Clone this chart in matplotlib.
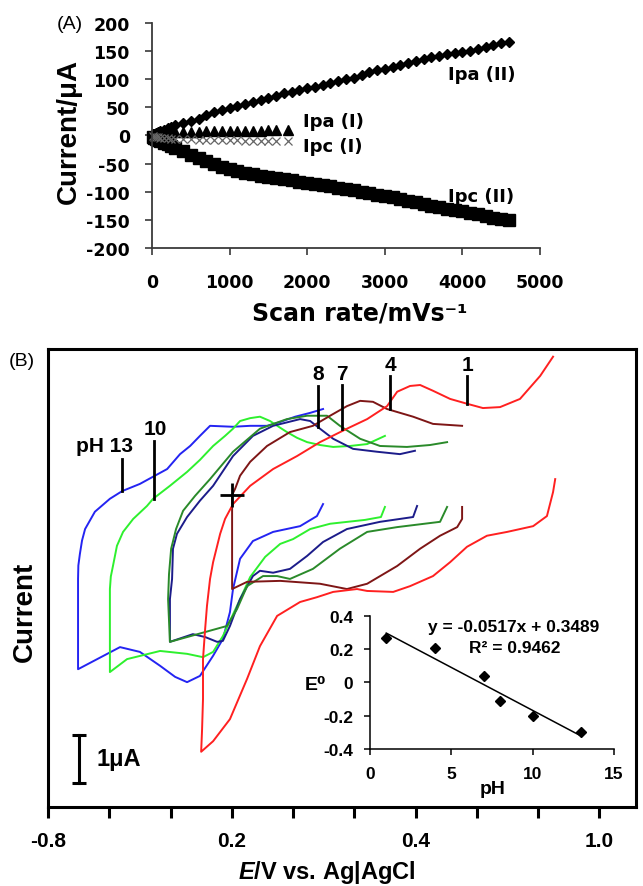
import matplotlib
matplotlib.use("Agg")
import matplotlib.pyplot as plt

plt.rcParams["font.family"] = ["Liberation Sans", "DejaVu Sans"]
plt.rcParams["axes.unicode_minus"] = False
plt.rcParams["mathtext.fontset"] = "custom"
plt.rcParams["mathtext.it"] = "Liberation Sans:italic:bold"
plt.rcParams["mathtext.rm"] = "Liberation Sans:bold"

WIDE = ["DejaVu Sans"]

# ---------------------------------------------------------------------------
# (A) peak currents vs scan rate
# ---------------------------------------------------------------------------
rate_II = [10, 25, 50, 75, 100, 150, 200, 250, 300, 400, 500, 600, 700, 800,
           900, 1000, 1100, 1200, 1300, 1400, 1500, 1600, 1700, 1800, 1900,
           2000, 2100, 2200, 2300, 2400, 2500, 2600, 2700, 2800, 2900, 3000,
           3100, 3200, 3300, 3400, 3500, 3600, 3700, 3800, 3900, 4000, 4100,
           4200, 4300, 4400, 4500, 4600]
ipa_II = [2, 3, 5, 6, 8, 10, 13, 15, 18, 22, 26, 30, 37, 42, 45, 48, 52, 56,
          59, 63, 67, 71, 75, 78, 81, 84, 87, 90, 94, 97, 100, 103, 107, 112,
          116, 119, 122, 126, 129, 132, 136, 139, 141, 144, 147, 149, 151, 154,
          157, 160, 164, 167]
ipc_II = [-2, -4, -6, -8, -10, -13, -16, -19, -22, -28, -34, -40, -46, -51,
          -56, -60, -63, -66, -69, -72, -74, -76, -78, -80, -82, -84, -86, -88,
          -90, -93, -95, -97, -100, -102, -105, -107, -110, -113, -116, -119,
          -122, -125, -127, -130, -132, -135, -137, -140, -143, -146, -148, -151]

rate_I = [10, 25, 50, 75, 100, 150, 200, 250, 300, 400, 500, 600, 700, 800,
          900, 1000, 1100, 1200, 1300, 1400, 1500, 1600, 1750]
ipa_I = [1, 2, 3, 3.5, 4, 4.5, 5, 5.5, 6, 6.5, 7, 7, 7.5, 7.5, 8, 8, 8, 8.5,
         8.5, 8.5, 9, 9, 9]
ipc_I = [-1, -2, -3, -3.5, -4, -4.5, -5, -5.5, -6, -6.5, -7, -7.5, -7.5, -8,
         -8, -8.5, -8.5, -9, -9, -9, -9.5, -9.5, -9.5]

# ---------------------------------------------------------------------------
# (B) cyclic voltammograms at several pH (E / V, current / uA)
# ---------------------------------------------------------------------------
ph13_E = [0.098, 0.078, 0.023, -0.065, -0.131, -0.173, -0.196, -0.206, -0.229,
          -0.261, -0.304, -0.346, -0.385, -0.434, -0.500, -0.565, -0.702,
          -0.702, -0.701, -0.696, -0.689, -0.679, -0.647, -0.598, -0.558,
          -0.500, -0.457, -0.411, -0.369, -0.336, -0.304, -0.271, -0.196,
          -0.140, -0.085, -0.042, 0.007, 0.056, 0.098]
ph13_I = [1.56, 1.31, 1.10, 0.98, 0.79, 0.42, -0.21, -0.69, -1.25, -1.60,
          -2.02, -2.15, -2.04, -1.81, -1.52, -1.42, -1.88, 0.0, 0.28, 0.52,
          0.80, 1.04, 1.40, 1.67, 1.83, 1.98, 2.13, 2.29, 2.60, 2.77, 2.98,
          3.19, 3.17, 3.19, 3.19, 3.27, 3.38, 3.46, 3.54]

ph10_E = [0.300, 0.287, 0.235, 0.121, 0.056, 0.0, -0.042, -0.091, -0.140,
          -0.183, -0.229, -0.261, -0.294, -0.346, -0.434, -0.542, -0.598,
          -0.598, -0.595, -0.588, -0.575, -0.555, -0.522, -0.477, -0.457,
          -0.402, -0.346, -0.304, -0.261, -0.222, -0.196, -0.173, -0.140,
          -0.108, -0.075, -0.042, -0.020, 0.013, 0.046, 0.088, 0.131, 0.186,
          0.242, 0.300]
ph10_I = [1.50, 1.29, 1.23, 1.15, 1.04, 0.83, 0.73, 0.46, 0.04, -0.56, -1.19,
          -1.52, -1.63, -1.56, -1.50, -1.67, -1.94, -0.21, 0.05, 0.27, 0.69,
          0.98, 1.25, 1.52, 1.67, 1.94, 2.23, 2.48, 2.77, 2.98, 3.13, 3.29,
          3.35, 3.38, 3.29, 3.15, 3.06, 2.94, 2.85, 2.79, 2.75, 2.77, 2.81,
          2.98]

ph8_E = [0.405, 0.392, 0.284, 0.176, 0.098, 0.046, -0.010, -0.065, -0.108,
         -0.131, -0.173, -0.206, -0.229, -0.248, -0.287, -0.327, -0.402,
         -0.402, -0.395, -0.392, -0.379, -0.346, -0.304, -0.261, -0.196,
         -0.131, -0.065, 0.023, 0.056, 0.088, 0.131, 0.196, 0.274, 0.349,
         0.398]
ph8_I = [1.52, 1.29, 1.19, 1.04, 0.77, 0.48, 0.21, 0.13, 0.17, 0.06, -0.42,
         -0.98, -1.29, -1.31, -1.21, -1.15, -1.31, -0.42, 0.0, 0.63, 0.94,
         1.29, 1.63, 1.94, 2.56, 2.98, 3.19, 3.33, 3.29, 3.13, 2.92, 2.71,
         2.65, 2.60, 2.67]

ph7_E = [0.503, 0.480, 0.340, 0.242, 0.153, 0.065, -0.010, -0.052, -0.098,
         -0.150, -0.183, -0.216, -0.402, -0.408, -0.405, -0.398, -0.382,
         -0.359, -0.320, -0.271, -0.196, -0.108, -0.020, 0.046, 0.111, 0.153,
         0.219, 0.284, 0.372, 0.447, 0.503]
ph7_I = [1.50, 1.19, 1.08, 0.98, 0.63, 0.21, 0.0, 0.06, 0.06, -0.15, -0.63,
         -0.98, -1.31, -0.42, 0.10, 0.63, 1.04, 1.42, 1.73, 2.08, 2.65, 3.13,
         3.33, 3.40, 3.40, 3.19, 2.92, 2.77, 2.75, 2.79, 2.85]

ph4_E = [0.552, 0.552, 0.536, 0.480, 0.415, 0.340, 0.242, 0.176, 0.088,
         -0.042, -0.150, -0.199, -0.199, -0.189, -0.173, -0.140, -0.085,
         -0.010, 0.065, 0.121, 0.176, 0.219, 0.261, 0.307, 0.392, 0.457, 0.552]
ph4_I = [1.50, 1.25, 1.08, 0.90, 0.63, 0.27, -0.10, -0.21, -0.10, -0.04,
         -0.06, -0.21, 1.75, 1.88, 2.15, 2.44, 2.77, 3.06, 3.19, 3.40, 3.60,
         3.71, 3.69, 3.54, 3.38, 3.23, 3.19]

ph1_E = [0.856, 0.849, 0.829, 0.784, 0.699, 0.633, 0.568, 0.513, 0.457,
         0.382, 0.327, 0.242, 0.209, 0.131, 0.078, 0.023, -0.052, -0.108,
         -0.150, -0.206, -0.261, -0.300, -0.297, -0.294, -0.294, -0.287,
         -0.281, -0.271, -0.261, -0.238, -0.222, -0.196, -0.140, -0.065,
         0.013, 0.088, 0.176, 0.242, 0.307, 0.340, 0.382, 0.415, 0.457, 0.513,
         0.568, 0.620, 0.676, 0.741, 0.807, 0.849]
ph1_I = [2.08, 1.81, 1.31, 1.10, 0.98, 0.90, 0.67, 0.35, 0.06, -0.15, -0.27,
         -0.25, -0.21, -0.27, -0.38, -0.48, -0.77, -1.40, -2.08, -2.92, -3.38,
         -3.60, -3.13, -2.50, -1.67, -1.04, -0.56, 0.0, 0.35, 0.94, 1.25,
         1.56, 1.94, 2.29, 2.56, 2.85, 3.13, 3.33, 3.60, 3.90, 4.02, 4.04,
         3.92, 3.75, 3.65, 3.56, 3.58, 3.75, 4.23, 4.63]

# peak markers: position, extent and label
mark_E = [-0.558, -0.454, 0.082, 0.160, 0.317, 0.568]
mark_top = [2.50, 2.88, 4.02, 4.04, 4.23, 4.23]
mark_bot = [1.83, 1.67, 3.17, 3.13, 3.54, 3.65]
mark_text = ["pH 13", "10", "8", "7", "4", "1"]
text_E = [-0.614, -0.451, 0.082, 0.160, 0.317, 0.571]
text_I = [2.77, 3.13, 4.27, 4.27, 4.46, 4.46]

cross_E, cross_I = -0.199, 1.75
bar_E, bar_I = -0.699, [-3.25, -4.25]

xtick_vals = [-0.8, -0.6, -0.4, -0.2, 0.0, 0.2, 0.4, 0.6, 0.8, 1.0]
xtick_text = ["-0.8", "", "", "0.2", "", "", "0.4", "", "", "1.0"]

# inset: formal potential vs pH
ph = [1, 4, 7, 8, 10, 13]
e0 = [0.27, 0.21, 0.04, -0.11, -0.20, -0.30]
fit_slope, fit_icpt = -0.0517, 0.3489

# ---------------------------------------------------------------------------
fig = plt.figure(figsize=(6.43, 8.87), dpi=100)

# ----- panel A -----
axA = fig.add_axes([0.2364, 0.7193, 0.6034, 0.2537])
axA.plot(rate_II, ipc_II, "s", color="k", ms=8, clip_on=False)
axA.plot(rate_II, ipa_II, "D", color="k", ms=5, clip_on=False)
axA.plot(rate_I, ipa_I, "^", color="k", ms=7, clip_on=False)
axA.plot(rate_I, ipc_I, "x", color="#666666", ms=6, mew=0.9, clip_on=False)
axA.set_xlim(0, 5000)
axA.set_ylim(-200, 200)
axA.set_xticks(range(0, 5001, 1000))
axA.set_yticks(range(-200, 201, 50))
for s in ("top", "right"):
    axA.spines[s].set_visible(False)
for s in ("left", "bottom"):
    axA.spines[s].set_color("#3a3a3a")
    axA.spines[s].set_linewidth(1.3)
axA.tick_params(axis="both", direction="out", length=5, width=1.2,
                color="#3a3a3a")
axA.tick_params(axis="x", pad=13)
axA.tick_params(axis="y", pad=11)
for lab in axA.get_xticklabels() + axA.get_yticklabels():
    lab.set_fontfamily(WIDE)
    lab.set_fontweight("bold")
    lab.set_fontsize(12.5)

for txt, x, y in [("Ipa (II)", 3819, 110), ("Ipa (I)", 1948, 25),
                  ("Ipc (I)", 1948, -18), ("Ipc (II)", 3819, -107)]:
    axA.text(x, y, txt, ha="left", va="center", fontsize=13,
             fontweight="bold", family=WIDE)

fig.text(0.1089, 0.9729, "(A)", ha="center", va="center", fontsize=14)
fig.text(0.1073, 0.8512, "Current/μA", ha="center", va="center",
         rotation=90, fontsize=20, fontweight="bold")
fig.text(0.5599, 0.6460, "Scan rate/mVs⁻¹", ha="center", va="center",
         fontsize=17, fontweight="bold", family=WIDE)

# ----- panel B -----
axB = fig.add_axes([0.0747, 0.0891, 0.9145, 0.5163])
curves = [
    (ph13_E, ph13_I, "#2424f2"),
    (ph10_E, ph10_I, "#2ef02e"),
    (ph8_E, ph8_I, "#1c1c8a"),
    (ph7_E, ph7_I, "#2a8a2a"),
    (ph4_E, ph4_I, "#7e1616"),
    (ph1_E, ph1_I, "#ff2020"),
]
for E, I, c in curves:
    axB.plot(E, I, color=c, lw=1.4, solid_joinstyle="round")

for xe, top, bot in zip(mark_E, mark_top, mark_bot):
    axB.plot([xe, xe], [bot, top], color="k", lw=2)
for txt, xe, ye in zip(mark_text, text_E, text_I):
    axB.text(xe, ye, txt, ha="center", va="center", fontsize=15,
             fontweight="bold")
axB.plot(cross_E, cross_I, marker="+", ms=17, mew=2, color="k")

axB.plot([bar_E, bar_E], bar_I, color="k", lw=2.2)
axB.plot([bar_E, bar_E], bar_I, ls="none", marker="_", ms=10, mew=2.2,
         color="k")
axB.text(-0.643, -3.75, "1μA", ha="left", va="center", fontsize=17,
         fontweight="bold")

axB.set_xlim(-0.8, 1.12)
axB.set_ylim(-4.75, 4.79)
axB.set_xticks(xtick_vals)
axB.set_xticklabels(xtick_text, fontsize=15, fontweight="bold")
axB.set_yticks([])
for s in axB.spines.values():
    s.set_linewidth(2.2)
axB.tick_params(axis="x", direction="out", length=8, width=2.2, pad=9)

fig.text(0.0342, 0.5919, "(B)", ha="center", va="center", fontsize=14)
fig.text(0.0389, 0.3100, "Current", ha="center", va="center", rotation=90,
         fontsize=20, fontweight="bold")
fig.text(0.5086, 0.0158, r"$\mathit{E}$/V vs. Ag|AgCl", ha="center",
         va="center", fontsize=17, fontweight="bold")

# ----- inset -----
axI = fig.add_axes([0.5754, 0.1545, 0.3795, 0.1499])
axI.patch.set_alpha(0)
fit_x = [ph[0], ph[-1]]
fit_y = [fit_slope * v + fit_icpt for v in fit_x]
axI.plot(fit_x, fit_y, color="k", lw=1.1)
axI.plot(ph, e0, "D", color="k", ms=5.5)
axI.set_xlim(0, 15)
axI.set_ylim(-0.4, 0.4)
axI.set_xticks([0, 5, 10, 15])
axI.set_yticks([-0.4, -0.2, 0, 0.2, 0.4])
axI.set_yticklabels(["-0.4", "-0.2", "0", "0.2", "0.4"])
for s in ("top", "right"):
    axI.spines[s].set_visible(False)
for s in ("left", "bottom"):
    axI.spines[s].set_linewidth(1.1)
axI.tick_params(direction="out", length=4, width=1.1, pad=8)
for lab in axI.get_xticklabels() + axI.get_yticklabels():
    lab.set_fontweight("bold")
    lab.set_fontsize(12.5)
axI.text(8.85, 0.334, "y = -0.0517x + 0.3489", ha="center", va="center",
         fontsize=12.5, fontweight="bold")
axI.text(8.9, 0.213, "R² = 0.9462", ha="center", va="center",
         fontsize=12.5, fontweight="bold")
fig.text(0.7667, 0.1094, "pH", ha="center", va="center", fontsize=14,
         fontweight="bold")
fig.text(0.4899, 0.2277, "E⁰", ha="center", va="center", fontsize=14,
         fontweight="bold")

fig.savefig("out.png", dpi=100)
